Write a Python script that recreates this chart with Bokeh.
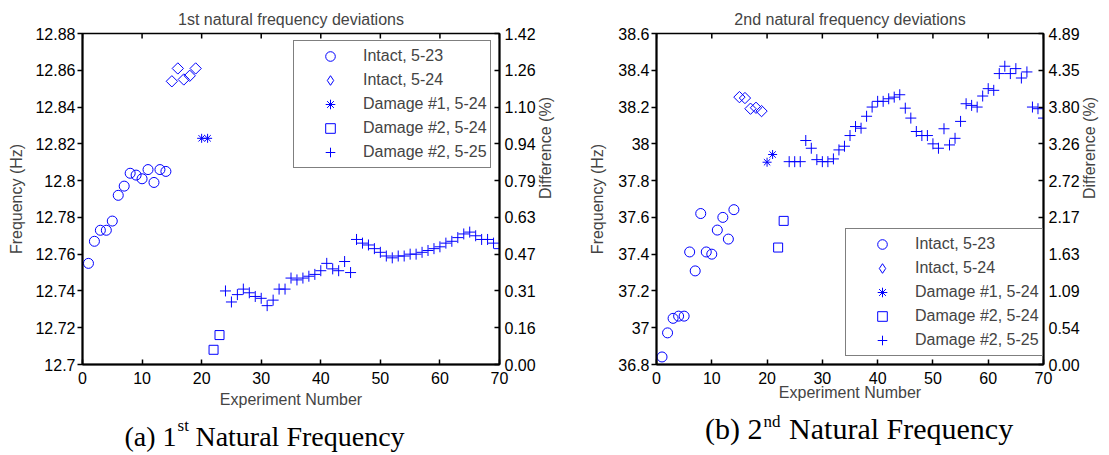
import math
from bokeh.plotting import figure
from bokeh.models import LinearAxis, FixedTicker, Legend, LegendItem, Label, Range1d
from bokeh.layouts import row, column
from bokeh.embed import file_html
from bokeh.resources import INLINE

# ---------------- data ----------------
# experiment numbers
exp_intact_523 = list(range(1, 15))
exp_intact_524 = list(range(15, 20))
exp_damage1_524 = [20, 21]
exp_damage2_524 = [22, 23]
exp_damage2_525 = list(range(24, 71))

# 1st natural frequency (Hz)
f1_intact_523 = [12.755, 12.767, 12.773, 12.773, 12.778, 12.792, 12.797, 12.804,
                 12.803, 12.801, 12.806, 12.799, 12.806, 12.805]
f1_intact_524 = [12.854, 12.861, 12.855, 12.857, 12.861]
f1_damage1_524 = [12.823, 12.823]
f1_damage2_524 = [12.708, 12.716]
f1_damage2_525 = [12.740, 12.734, 12.738, 12.741, 12.739, 12.737, 12.736, 12.732,
                  12.735, 12.741, 12.741, 12.747, 12.746, 12.747, 12.748, 12.749,
                  12.751, 12.755, 12.752, 12.751, 12.756, 12.750, 12.768, 12.766,
                  12.765, 12.763, 12.761, 12.759, 12.758, 12.759, 12.759, 12.760,
                  12.760, 12.761, 12.762, 12.763, 12.764, 12.766, 12.767, 12.769,
                  12.771, 12.772, 12.770, 12.768, 12.768, 12.766, 12.763]

# 2nd natural frequency (Hz)
f2_intact_523 = [36.841, 36.972, 37.051, 37.063, 37.063, 37.412, 37.309, 37.621,
                 37.412, 37.400, 37.531, 37.600, 37.482, 37.642]
f2_intact_524 = [38.254, 38.249, 38.191, 38.196, 38.178]
f2_damage1_524 = [37.900, 37.942]
f2_damage2_524 = [37.436, 37.581]
f2_damage2_525 = [37.903, 37.903, 37.903, 38.018, 37.976, 37.914, 37.903, 37.903,
                  37.918, 37.967, 37.987, 38.045, 38.094, 38.085, 38.150, 38.200,
                  38.231, 38.231, 38.245, 38.254, 38.267, 38.194, 38.140, 38.067,
                  38.045, 38.045, 38.000, 37.976, 38.082, 37.994, 38.030, 38.122,
                  38.218, 38.209, 38.200, 38.260, 38.300, 38.291, 38.382, 38.422,
                  38.382, 38.409, 38.358, 38.391, 38.200, 38.191, 38.140]

# ticks / labels
x_ticks = [0, 10, 20, 30, 40, 50, 60, 70]
f1_ticks = [12.70, 12.72, 12.74, 12.76, 12.78, 12.80, 12.82, 12.84, 12.86, 12.88]
f1_tick_labels = ["12.7", "12.72", "12.74", "12.76", "12.78", "12.8", "12.82",
                  "12.84", "12.86", "12.88"]
d1_tick_labels = ["0.00", "0.16", "0.31", "0.47", "0.63", "0.79", "0.94", "1.10",
                  "1.26", "1.42"]
f2_ticks = [36.8, 37.0, 37.2, 37.4, 37.6, 37.8, 38.0, 38.2, 38.4, 38.6]
f2_tick_labels = ["36.8", "37", "37.2", "37.4", "37.6", "37.8", "38", "38.2",
                  "38.4", "38.6"]
d2_tick_labels = ["0.00", "0.54", "1.09", "1.63", "2.17", "2.72", "3.26", "3.80",
                  "4.35", "4.89"]

series_names = ["Intact, 5-23", "Intact, 5-24", "Damage #1, 5-24",
                "Damage #2, 5-24", "Damage #2, 5-25"]

BLUE = "#0000FF"
SANS = "Liberation Sans"
SERIF = "Liberation Serif"
PLOT_H = 410
CAP_H = 45


def make_panel(title, width, yr, yticks, ylabels, dlabels, ys, borders,
               legend_loc, xlabel_standoff, ylabel_standoff):
    p = figure(width=width, height=PLOT_H, x_range=Range1d(0, 70),
               y_range=Range1d(*yr), output_backend="svg", toolbar_location=None,
               min_border_left=borders[0], min_border_right=borders[1],
               min_border_top=borders[2], min_border_bottom=borders[3])
    p.title.text = title
    p.title.align = "center"
    p.title.text_font = SANS
    p.title.text_font_size = "16px"
    p.title.text_font_style = "normal"
    p.title.standoff = 12
    p.grid.visible = False
    p.outline_line_color = "black"
    p.outline_line_width = 1.5
    p.background_fill_color = "white"
    p.border_fill_color = "white"

    def style(ax):
        ax.axis_line_width = 2
        ax.axis_line_color = "black"
        ax.major_tick_line_width = 1.5
        ax.minor_tick_line_color = None
        ax.major_label_text_font = SANS
        ax.major_label_text_font_size = "16px"
        ax.major_label_text_color = "black"
        ax.axis_label_text_font = SANS
        ax.axis_label_text_font_size = "16px"
        ax.axis_label_text_font_style = "normal"

    xa = p.xaxis[0]
    style(xa)
    xa.ticker = FixedTicker(ticks=x_ticks)
    xa.major_tick_in = 5
    xa.major_tick_out = 0
    xa.major_label_standoff = 7
    xa.axis_label = "Experiment Number"
    xa.axis_label_standoff = xlabel_standoff

    ya = p.yaxis[0]
    style(ya)
    ya.ticker = FixedTicker(ticks=yticks)
    ya.major_label_overrides = {t: l for t, l in zip(yticks, ylabels)}
    ya.major_tick_in = 0
    ya.major_tick_out = 5
    ya.major_label_standoff = 2
    ya.axis_label = "Frequency (Hz)"
    ya.axis_label_standoff = ylabel_standoff

    ra = LinearAxis(ticker=FixedTicker(ticks=yticks))
    style(ra)
    ra.major_label_overrides = {t: l for t, l in zip(yticks, dlabels)}
    ra.major_tick_in = 5
    ra.major_tick_out = 0
    ra.major_label_standoff = 5
    ra.axis_label = "Difference (%)"
    ra.axis_label_standoff = 7
    ra.axis_label_orientation = math.pi / 2
    p.add_layout(ra, "right")

    # inward tick marks along the top border
    p.scatter(x_ticks, [yr[1]] * len(x_ticks), marker="dash", angle=math.pi / 2,
              size=10, line_color="black", line_width=1.5)

    r1 = p.scatter(exp_intact_523, ys[0], marker="circle", size=10, fill_color=None,
                   line_color=BLUE, line_width=1)
    # diamonds drawn as 45-degree squares (equal width and height)
    p.scatter(exp_intact_524, ys[1], marker="square", angle=math.pi / 4, size=8,
              fill_color=None, line_color=BLUE, line_width=1)
    # legend proxy for the diamonds: muted (invisible in the plot), shown in legend
    r2 = p.scatter(exp_intact_524, ys[1], marker="diamond", size=13, fill_color=None,
                   line_color=BLUE, line_width=1, muted_alpha=0)
    r2.muted = True
    r3 = p.scatter(exp_damage1_524, ys[2], marker="asterisk", size=9,
                   line_color=BLUE, line_width=1)
    r4 = p.scatter(exp_damage2_524, ys[3], marker="square", size=9, fill_color=None,
                   line_color=BLUE, line_width=1)
    r5 = p.scatter(exp_damage2_525, ys[4], marker="cross", size=11,
                   line_color=BLUE, line_width=1)

    items = [LegendItem(label=n, renderers=[r]) for n, r in
             zip(series_names, [r1, r2, r3, r4, r5])]
    leg = Legend(items=items, location=legend_loc, margin=0, padding=3,
                 glyph_width=66, glyph_height=24, spacing=0, label_standoff=0,
                 label_text_font=SANS, label_text_font_size="16px",
                 border_line_color="black", border_line_width=1.2,
                 background_fill_color="white", background_fill_alpha=1.0,
                 inactive_fill_alpha=0.0)
    p.add_layout(leg, "center")
    return p


def caption_fig(width, borders, xr, main_left, sup, rest, x_split, base_y, sup_y,
                rest_x, size, sup_size):
    # caption strip below a panel; x in page pixels, y in pixels from strip bottom
    c = figure(width=width, height=CAP_H, x_range=Range1d(*xr),
               y_range=Range1d(0, CAP_H), output_backend="svg",
               toolbar_location=None, title=None, x_axis_type=None, y_axis_type=None,
               min_border_left=borders[0], min_border_right=borders[1],
               min_border_top=0, min_border_bottom=0)
    c.grid.visible = False
    c.outline_line_color = None
    c.add_layout(Label(x=x_split, y=base_y, text=main_left, text_align="right",
                       text_baseline="alphabetic", text_font=SERIF,
                       text_font_size=size, text_color="black"))
    c.add_layout(Label(x=x_split + 1, y=sup_y, text=sup, text_align="left",
                       text_baseline="alphabetic", text_font=SERIF,
                       text_font_size=sup_size, text_color="black"))
    c.add_layout(Label(x=rest_x, y=base_y, text=rest, text_align="left",
                       text_baseline="alphabetic", text_font=SERIF,
                       text_font_size=size, text_color="black"))
    return c


p1 = make_panel("1st natural frequency deviations", 565, (12.70, 12.88),
                f1_ticks, f1_tick_labels, d1_tick_labels,
                [f1_intact_523, f1_intact_524, f1_damage1_524, f1_damage2_524,
                 f1_damage2_525],
                (82, 62, 33, 46), (211, 196), 4, 7)
p2 = make_panel("2nd natural frequency deviations", 544, (36.8, 38.6),
                f2_ticks, f2_tick_labels, d2_tick_labels,
                [f2_intact_523, f2_intact_524, f2_damage1_524, f2_damage2_524,
                 f2_damage2_525],
                (91, 59, 33, 46), (189, 8), -3, 9)

c1 = caption_fig(565, (82, 62), (82, 503), "(a) 1", "st", "Natural Frequency",
                 177, 19, 30, 196, "28px", "17px")
c2 = caption_fig(544, (91, 59), (656, 1050), "(b) 2", "nd", "Natural Frequency",
                 764, 27, 34, 791, "30px", "17px")

layout = row(column(p1, c1), column(p2, c2))
open("out.html", "w").write(file_html(layout, INLINE))
